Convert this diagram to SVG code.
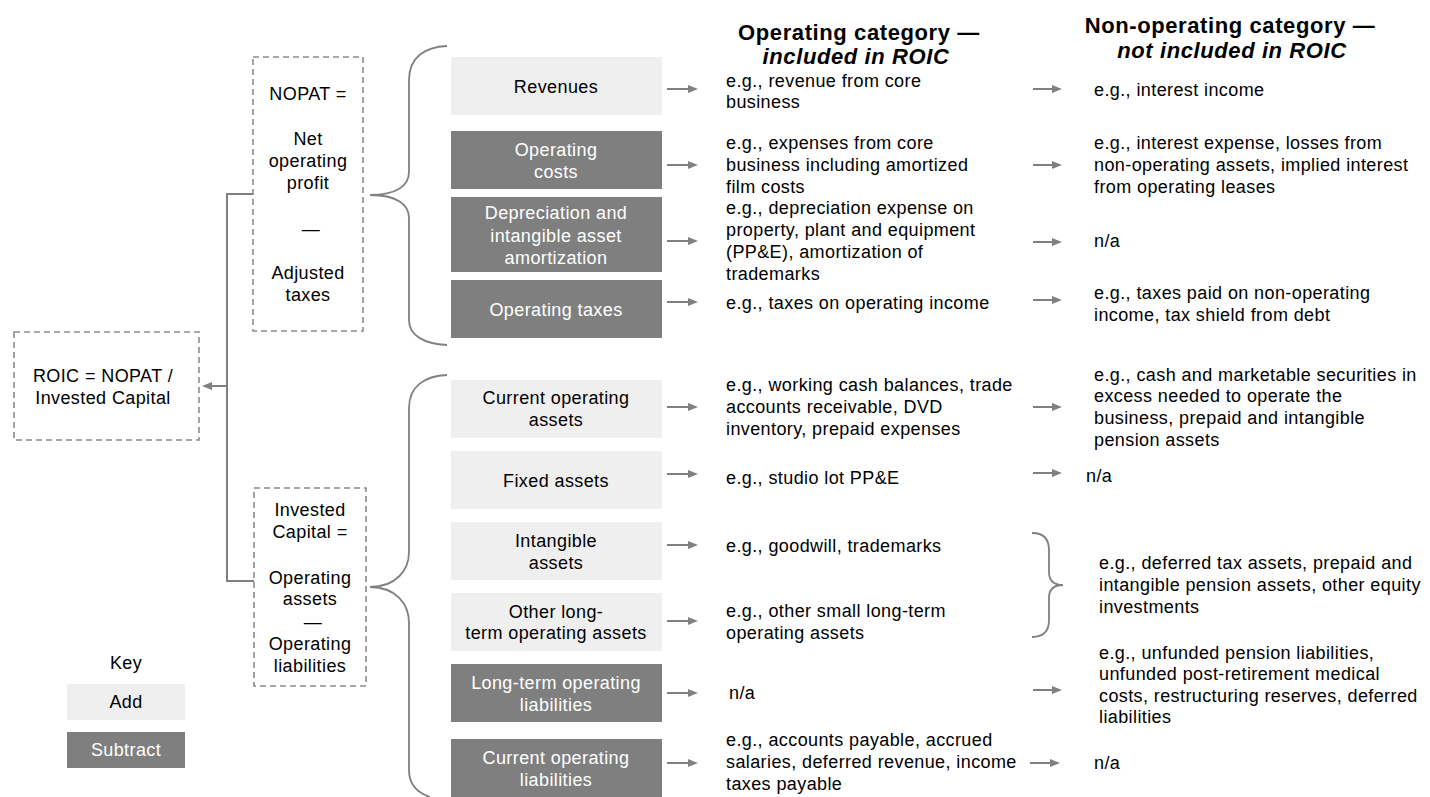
<svg xmlns="http://www.w3.org/2000/svg" width="1430" height="797" viewBox="0 0 1430 797">
<defs>
<style>
.t{font-family:"Liberation Sans",Arial,sans-serif;font-size:18px;fill:#000;letter-spacing:0.4px}
.c{text-anchor:middle}
.w{fill:#fff}
.h{font-family:"Liberation Sans",Arial,sans-serif;font-size:22px;font-weight:bold;text-anchor:middle;fill:#000;letter-spacing:0.6px}
.hi{font-style:italic}
.add{fill:#efefef}
.sub{fill:#7f7f7f}
.dash{fill:none;stroke:#8c8c8c;stroke-width:1.6;stroke-dasharray:6 4}
.ln{fill:none;stroke:#808080;stroke-width:2}
.br{fill:none;stroke:#808080;stroke-width:1.8}
</style>
<marker id="ah" viewBox="0 0 10 8" refX="0" refY="4" markerWidth="10" markerHeight="8" markerUnits="userSpaceOnUse" orient="auto">
<path d="M0,0 L10,4 L0,8 z" fill="#808080"/>
</marker>
</defs>
<rect width="1430" height="797" fill="#fff"/>

<g id="headers">
<text class="h" x="859" y="40">Operating category —</text>
<text class="h hi" x="856" y="64">included in ROIC</text>
<text class="h" x="1230" y="33">Non-operating category —</text>
<text class="h hi" x="1232" y="58">not included in ROIC</text>
</g>

<g id="roic">
<rect class="dash" x="14" y="332" width="185" height="108"/>
<text class="t c" x="103" y="382">ROIC = NOPAT /</text>
<text class="t c" x="103" y="404">Invested Capital</text>
</g>

<g id="nopat">
<rect class="dash" x="253" y="57" width="110" height="274"/>
<text class="t c" x="308" y="100">NOPAT =</text>
<text class="t c" x="308" y="145">Net</text>
<text class="t c" x="308" y="167">operating</text>
<text class="t c" x="308" y="189">profit</text>
<text class="t c" x="311" y="235">—</text>
<text class="t c" x="308" y="279">Adjusted</text>
<text class="t c" x="308" y="301">taxes</text>
</g>

<g id="invested-capital">
<rect class="dash" x="254" y="488" width="112" height="198"/>
<text class="t c" x="310" y="516">Invested</text>
<text class="t c" x="310" y="538">Capital =</text>
<text class="t c" x="310" y="584">Operating</text>
<text class="t c" x="310" y="605">assets</text>
<text class="t c" x="313" y="628">—</text>
<text class="t c" x="310" y="650">Operating</text>
<text class="t c" x="310" y="672">liabilities</text>
</g>

<g id="connectors">
<path class="ln" d="M253,194 H227 V581 H254"/>
<line class="ln" x1="227" y1="386" x2="212" y2="386" marker-end="url(#ah)"/>
<path class="br" d="M447,46 C425,47 409,57 409,80 L409,172 C409,186 396,195 370,195 C396,195 409,204 409,218 L409,320 C409,336 425,344 447,345"/>
<path class="br" d="M447,375 C425,376 409,386 409,408 L409,552 C409,570 396,587 370,587 C396,587 409,604 409,623 L409,770 C409,785 418,793 430,797"/>
<path class="br" d="M1032,533 C1042,533 1049,538 1049,550 L1049,572 C1049,580 1053,585 1063,585 C1053,585 1049,590 1049,598 L1049,620 C1049,632 1042,637 1032,637"/>
<g marker-end="url(#ah)">
<line class="ln" x1="667" y1="89" x2="688" y2="89"/>
<line class="ln" x1="667" y1="165" x2="688" y2="165"/>
<line class="ln" x1="667" y1="241" x2="688" y2="241"/>
<line class="ln" x1="667" y1="302" x2="688" y2="302"/>
<line class="ln" x1="667" y1="407" x2="688" y2="407"/>
<line class="ln" x1="667" y1="474" x2="688" y2="474"/>
<line class="ln" x1="667" y1="545" x2="688" y2="545"/>
<line class="ln" x1="667" y1="621" x2="688" y2="621"/>
<line class="ln" x1="667" y1="693" x2="688" y2="693"/>
<line class="ln" x1="667" y1="763" x2="688" y2="763"/>
<line class="ln" x1="1033" y1="89" x2="1052" y2="89"/>
<line class="ln" x1="1033" y1="165" x2="1052" y2="165"/>
<line class="ln" x1="1033" y1="242" x2="1052" y2="242"/>
<line class="ln" x1="1033" y1="300" x2="1052" y2="300"/>
<line class="ln" x1="1033" y1="407" x2="1052" y2="407"/>
<line class="ln" x1="1033" y1="473" x2="1052" y2="473"/>
<line class="ln" x1="1033" y1="690" x2="1052" y2="690"/>
<line class="ln" x1="1030" y1="763" x2="1050" y2="763"/>
</g>
</g>

<g id="revenues">
<rect class="add" x="451" y="57" width="211" height="58"/>
<text class="t c" x="556" y="93">Revenues</text>
</g>
<g id="operating-costs">
<rect class="sub" x="451" y="131" width="211" height="58"/>
<text class="t c w" x="556" y="156">Operating</text>
<text class="t c w" x="556" y="178">costs</text>
</g>
<g id="depreciation">
<rect class="sub" x="451" y="197" width="211" height="75"/>
<text class="t c w" x="556" y="219">Depreciation and</text>
<text class="t c w" x="556" y="242">intangible asset</text>
<text class="t c w" x="556" y="264">amortization</text>
</g>
<g id="operating-taxes">
<rect class="sub" x="451" y="280" width="211" height="58"/>
<text class="t c w" x="556" y="316">Operating taxes</text>
</g>
<g id="current-operating-assets">
<rect class="add" x="451" y="380" width="211" height="58"/>
<text class="t c" x="556" y="404">Current operating</text>
<text class="t c" x="556" y="426">assets</text>
</g>
<g id="fixed-assets">
<rect class="add" x="451" y="451" width="211" height="58"/>
<text class="t c" x="556" y="487">Fixed assets</text>
</g>
<g id="intangible-assets">
<rect class="add" x="451" y="522" width="211" height="58"/>
<text class="t c" x="556" y="547">Intangible</text>
<text class="t c" x="556" y="569">assets</text>
</g>
<g id="other-lt-assets">
<rect class="add" x="451" y="593" width="211" height="58"/>
<text class="t c" x="556" y="618">Other long-</text>
<text class="t c" x="556" y="639">term operating assets</text>
</g>
<g id="lt-liabilities">
<rect class="sub" x="451" y="664" width="211" height="58"/>
<text class="t c w" x="556" y="689">Long-term operating</text>
<text class="t c w" x="556" y="711">liabilities</text>
</g>
<g id="current-liabilities">
<rect class="sub" x="451" y="739" width="211" height="58"/>
<text class="t c w" x="556" y="764">Current operating</text>
<text class="t c w" x="556" y="786">liabilities</text>
</g>

<g id="operating-examples">
<text class="t" x="726" y="87">e.g., revenue from core</text>
<text class="t" x="726" y="108">business</text>
<text class="t" x="726" y="149">e.g., expenses from core</text>
<text class="t" x="726" y="171">business including amortized</text>
<text class="t" x="726" y="193">film costs</text>
<text class="t" x="726" y="214">e.g., depreciation expense on</text>
<text class="t" x="726" y="236">property, plant and equipment</text>
<text class="t" x="726" y="258">(PP&amp;E), amortization of</text>
<text class="t" x="726" y="280">trademarks</text>
<text class="t" x="726" y="309">e.g., taxes on operating income</text>
<text class="t" x="726" y="391">e.g., working cash balances, trade</text>
<text class="t" x="726" y="413">accounts receivable, DVD</text>
<text class="t" x="726" y="435">inventory, prepaid expenses</text>
<text class="t" x="726" y="484">e.g., studio lot PP&amp;E</text>
<text class="t" x="726" y="552">e.g., goodwill, trademarks</text>
<text class="t" x="726" y="617">e.g., other small long-term</text>
<text class="t" x="726" y="639">operating assets</text>
<text class="t" x="729" y="699">n/a</text>
<text class="t" x="726" y="746">e.g., accounts payable, accrued</text>
<text class="t" x="726" y="768">salaries, deferred revenue, income</text>
<text class="t" x="726" y="790">taxes payable</text>
</g>

<g id="non-operating-examples">
<text class="t" x="1094" y="96">e.g., interest income</text>
<text class="t" x="1094" y="149">e.g., interest expense, losses from</text>
<text class="t" x="1094" y="171">non-operating assets, implied interest</text>
<text class="t" x="1094" y="193">from operating leases</text>
<text class="t" x="1094" y="247">n/a</text>
<text class="t" x="1094" y="299">e.g., taxes paid on non-operating</text>
<text class="t" x="1094" y="321">income, tax shield from debt</text>
<text class="t" x="1094" y="381">e.g., cash and marketable securities in</text>
<text class="t" x="1094" y="402">excess needed to operate the</text>
<text class="t" x="1094" y="424">business, prepaid and intangible</text>
<text class="t" x="1094" y="446">pension assets</text>
<text class="t" x="1086" y="482">n/a</text>
<text class="t" x="1099" y="569">e.g., deferred tax assets, prepaid and</text>
<text class="t" x="1099" y="591">intangible pension assets, other equity</text>
<text class="t" x="1099" y="613">investments</text>
<text class="t" x="1099" y="659">e.g., unfunded pension liabilities,</text>
<text class="t" x="1099" y="680">unfunded post-retirement medical</text>
<text class="t" x="1099" y="702">costs, restructuring reserves, deferred</text>
<text class="t" x="1099" y="723">liabilities</text>
<text class="t" x="1094" y="769">n/a</text>
</g>

<g id="key">
<text class="t c" x="126" y="669">Key</text>
<rect class="add" x="67" y="684" width="118" height="36"/>
<text class="t c" x="126" y="708">Add</text>
<rect class="sub" x="67" y="732" width="118" height="36"/>
<text class="t c w" x="126" y="756">Subtract</text>
</g>
</svg>
